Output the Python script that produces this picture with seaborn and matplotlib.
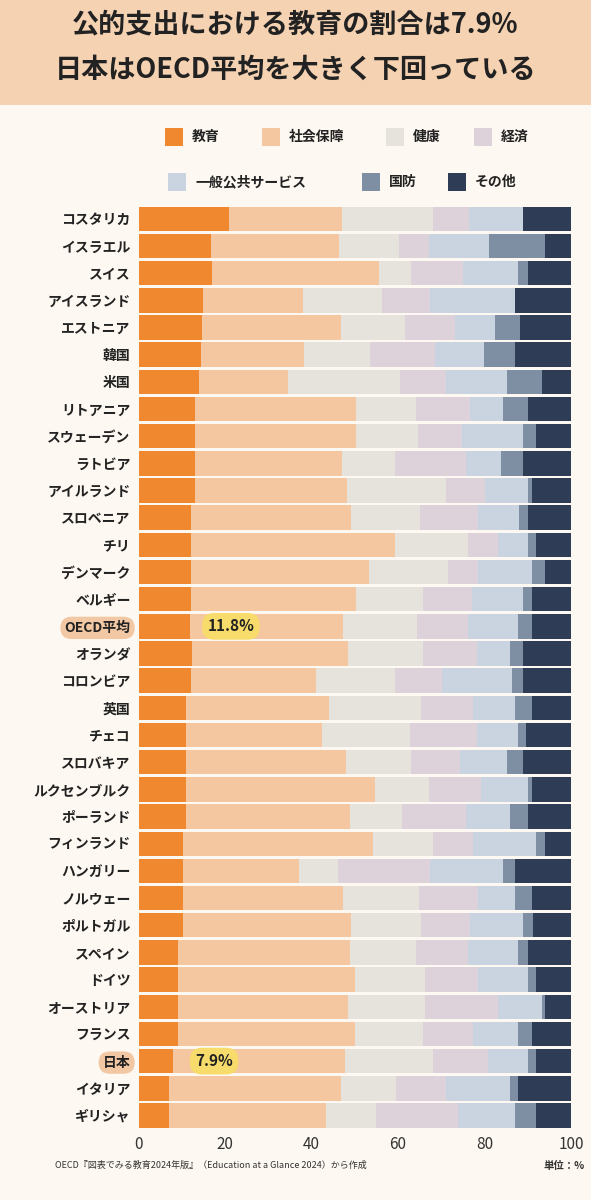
import matplotlib
matplotlib.use("Agg")
import matplotlib.pyplot as plt
from matplotlib.patches import Rectangle
import seaborn as sns
import numpy as np
import pandas as pd

countries = ["コスタリカ","イスラエル","スイス","アイスランド","エストニア","韓国","米国","リトアニア",
             "スウェーデン","ラトビア","アイルランド","スロベニア","チリ","デンマーク","ベルギー","OECD平均",
             "オランダ","コロンビア","英国","チェコ","スロバキア","ルクセンブルク","ポーランド","フィンランド",
             "ハンガリー","ノルウェー","ポルトガル","スペイン","ドイツ","オーストリア","フランス","日本",
             "イタリア","ギリシャ"]
education = [20.9,16.8,17.0,14.9,14.7,14.3,13.9,13.0,13.0,13.0,13.0,12.0,12.0,12.0,12.0,11.8,
             12.2,12.0,11.0,11.0,11.0,11.0,11.0,10.1,10.1,10.1,10.1,9.1,9.1,9.1,9.1,7.9,7.0,7.0]
social = [26.0,29.6,38.6,23.1,32.0,23.9,20.7,37.2,37.2,33.9,35.1,37.0,47.3,41.3,38.2,35.5,
          36.3,29.0,33.1,31.5,36.9,43.6,37.8,44.0,27.0,37.2,39.1,39.7,40.9,39.4,40.9,39.8,39.7,36.4]
health = [21.1,13.9,7.5,18.2,14.9,15.3,25.8,13.9,14.5,12.4,23.1,16.0,16.9,18.3,15.6,17.0,
          17.3,18.3,21.3,20.2,15.2,12.6,12.2,13.9,9.0,17.6,16.0,15.3,16.2,17.7,15.8,20.3,12.9,11.5]
economy = [8.5,6.9,12.0,11.2,11.5,15.0,10.7,12.5,10.0,16.5,8.9,13.5,7.0,6.9,11.2,11.9,
           12.4,10.8,12.0,15.5,11.2,12.1,14.8,9.4,21.3,13.6,11.4,12.1,12.3,17.0,11.6,12.9,11.5,19.0]
general = [12.5,13.9,12.7,19.6,9.3,11.4,14.2,7.6,14.3,8.1,10.0,9.5,6.9,12.4,12.0,11.6,
           7.7,16.2,9.6,9.6,10.8,10.8,10.1,14.6,16.8,8.5,12.4,11.6,11.6,10.0,10.4,9.2,14.8,13.1]
defense = [0.0,12.9,2.3,0.0,5.8,7.1,7.9,5.9,3.0,5.1,0.8,2.1,1.9,3.1,1.9,3.1,
           3.1,2.7,3.9,1.9,3.9,0.8,4.2,2.0,2.8,3.9,2.3,2.3,1.9,0.8,3.1,1.9,1.9,5.0]
other = [11.0,6.0,9.9,13.0,11.8,13.0,6.8,9.9,8.0,11.0,9.1,9.9,8.0,6.0,9.1,9.1,
         11.0,11.0,9.1,10.3,11.0,9.1,9.9,6.0,13.0,9.1,8.7,9.9,8.0,6.0,9.1,8.0,12.2,8.0]

cats = ["教育","社会保障","健康","経済","一般公共サービス","国防","その他"]
series = [education, social, health, economy, general, defense, other]
colors = ["#F0882F","#F5C7A0","#E6E3DD","#DDD2DA","#C9D4E0","#7E8FA3","#2E3D55"]
bg = "#FDF8F1"

sns.set_theme(style="white")
plt.rcParams['font.family'] = ['Noto Sans CJK JP', 'DejaVu Sans']

fig = plt.figure(figsize=(5.91, 12), dpi=100, facecolor=bg)
ax = fig.add_axes([0.235, 0.058, 0.731, 0.771], facecolor=bg)

arr = np.array(series)
cum = np.cumsum(arr, axis=0)
for k in range(len(cats) - 1, -1, -1):
    df = pd.DataFrame({"country": countries, "v": cum[k]})
    sns.barplot(data=df, x="v", y="country", color=colors[k], saturation=1,
                width=0.9, ax=ax, edgecolor="none", linewidth=0)

ax.set_xlim(0, 100)
ax.set_ylim(len(countries) - 0.45, -0.5)
ax.set_xlabel(""); ax.set_ylabel("")
for s in ax.spines.values():
    s.set_visible(False)
ax.set_xticks([0, 20, 40, 60, 80, 100])
ax.tick_params(axis="x", labelsize=11, length=0, pad=4, labelcolor="#333333")
ax.tick_params(axis="y", labelsize=10, length=0, pad=6, labelcolor="#222222")
for t in ax.get_yticklabels():
    t.set_fontweight("bold")
    if t.get_text() in ("OECD平均", "日本"):
        t.set_bbox(dict(boxstyle="round,pad=0.3,rounding_size=0.8", fc="#F2C7A3", ec="none"))

for name in ("OECD平均", "日本"):
    i = countries.index(name)
    xv = education[i]
    ax.text(xv + 9.5, i, f"{xv}%", ha="center", va="center", fontsize=11, fontweight="bold",
            color="#222222",
            bbox=dict(boxstyle="round,pad=0.35,rounding_size=0.8", fc="#F7DC6B", ec="none"))

fig.patches.append(Rectangle((0, 1 - 105/1200), 1, 105/1200, transform=fig.transFigure,
                             fc="#F4D2B2", ec="none", zorder=0))
fig.text(0.5, 1 - 24/1200, "公的支出における教育の割合は7.9%", ha="center", va="center",
         fontsize=19.5, fontweight="bold", color="#222222")
fig.text(0.5, 1 - 70/1200, "日本はOECD平均を大きく下回っている", ha="center", va="center",
         fontsize=19.5, fontweight="bold", color="#222222")

legend_pos = [(165, 137), (262, 137), (386, 137), (474, 137), (168, 182), (362, 182), (448, 182)]
for (px, py), c, lab in zip(legend_pos, colors, cats):
    fig.patches.append(Rectangle((px/591, 1 - (py + 9)/1200), 18/591, 18/1200,
                                 transform=fig.transFigure, fc=c, ec="none"))
    fig.text((px + 27)/591, 1 - py/1200, lab, ha="left", va="center", fontsize=10,
             fontweight="bold", color="#222222")

fig.text(55/591, 1 - 1165/1200, "OECD『図表でみる教育2024年版』（Education at a Glance 2024）から作成",
         ha="left", va="center", fontsize=6.5, color="#333333")
fig.text(585/591, 1 - 1166/1200, "単位：%", ha="right", va="center", fontsize=7.5,
         fontweight="bold", color="#333333")

fig.savefig("out.png", dpi=100, facecolor=bg)
